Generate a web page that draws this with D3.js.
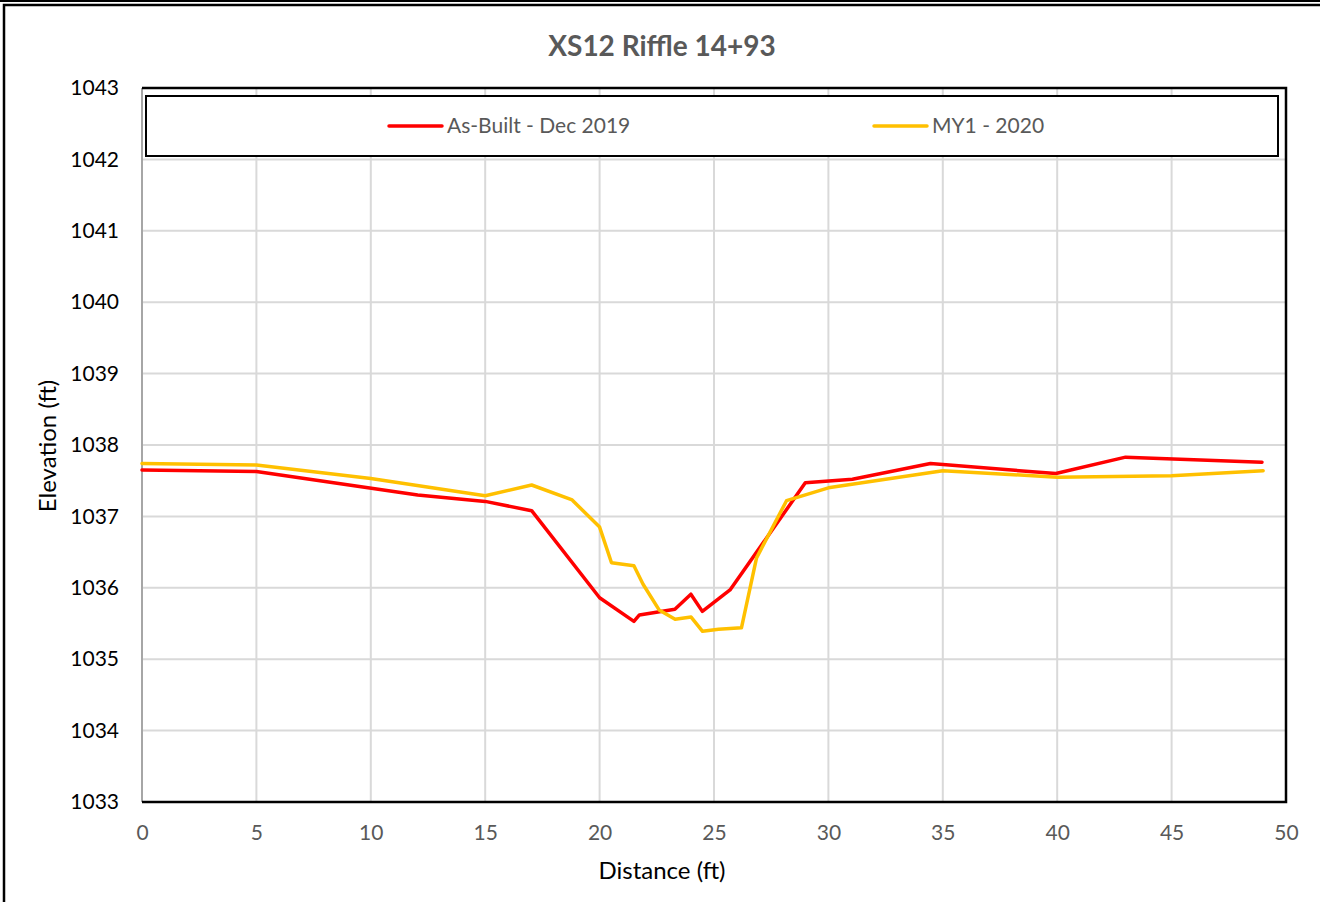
<!DOCTYPE html>
<html>
<head>
<meta charset="utf-8">
<script src="https://cdn.jsdelivr.net/npm/d3@7"></script>
<style>
  body { margin: 0; background: #fff; }
  svg { display: block; font-family: Lato, "Open Sans", sans-serif; }
</style>
</head>
<body>
<svg width="1320" height="902"></svg>
<script>
const width = 1320;
const height = 902;

// As-Built - Dec 2019
const asBuiltX = [0, 5, 12.05, 15, 17.03, 20, 21.5, 21.74, 23.29, 23.99, 24.49, 25.7, 28.99, 31.05, 34.46, 39.94, 42.99, 48.95];
const asBuiltY = [1037.65, 1037.63, 1037.30, 1037.21, 1037.08, 1035.86, 1035.53, 1035.62, 1035.70, 1035.91, 1035.67, 1035.97, 1037.47, 1037.52, 1037.74, 1037.60, 1037.83, 1037.76];

// MY1 - 2020
const my1X = [0, 5, 10, 15, 17.03, 18.8, 20, 20.52, 21.5, 21.9, 22.6, 23.3, 24.0, 24.5, 25.2, 26.2, 26.86, 28.17, 30, 35, 40, 45, 49];
const my1Y = [1037.74, 1037.72, 1037.53, 1037.29, 1037.44, 1037.23, 1036.85, 1036.35, 1036.31, 1036.05, 1035.69, 1035.56, 1035.59, 1035.39, 1035.42, 1035.44, 1036.42, 1037.22, 1037.40, 1037.64, 1037.55, 1037.57, 1037.64];

const xTicks = [0, 5, 10, 15, 20, 25, 30, 35, 40, 45, 50];
const yTicks = [1033, 1034, 1035, 1036, 1037, 1038, 1039, 1040, 1041, 1042, 1043];

const seriesNames = ["As-Built - Dec 2019", "MY1 - 2020"];
const seriesColors = ["#ff0000", "#ffc000"];

const margin = { top: 88, right: 34, bottom: 100, left: 142 };

const x = d3.scaleLinear()
    .domain([0, 50])
    .range([margin.left, width - margin.right]);
const y = d3.scaleLinear()
    .domain([1033, 1043])
    .range([height - margin.bottom, margin.top]);

const svg = d3.select("svg");

// outer chart frame
svg.append("line")
    .attr("x1", 0).attr("x2", width)
    .attr("y1", 1).attr("y2", 1)
    .attr("stroke", "#000").attr("stroke-width", 2);
svg.append("rect")
    .attr("x", 4).attr("y", 5)
    .attr("width", width + 10).attr("height", height + 10)
    .attr("fill", "none")
    .attr("stroke", "#000").attr("stroke-width", 2.5);

// title
svg.append("text")
    .attr("x", 662).attr("y", 56)
    .attr("text-anchor", "middle")
    .attr("font-size", 28)
    .attr("font-weight", "bold")
    .attr("fill", "#595959")
    .text("XS12 Riffle 14+93");

// gridlines
svg.append("g")
    .attr("stroke", "#d9d9d9")
    .attr("stroke-width", 2)
  .selectAll("line.h")
  .data(yTicks)
  .join("line")
    .attr("x1", x(0)).attr("x2", x(50))
    .attr("y1", d => y(d)).attr("y2", d => y(d));

svg.append("g")
    .attr("stroke", "#d9d9d9")
    .attr("stroke-width", 2)
  .selectAll("line.v")
  .data(xTicks.slice(1))
  .join("line")
    .attr("x1", d => x(d)).attr("x2", d => x(d))
    .attr("y1", y(1033)).attr("y2", y(1043));

// axes
const xAxis = svg.append("g")
    .attr("transform", `translate(0,${y(1033)})`)
    .call(d3.axisBottom(x).tickValues(xTicks).tickSize(0).tickPadding(23));
xAxis.select(".domain").remove();
xAxis.selectAll("text")
    .attr("font-family", "Lato, 'Open Sans', sans-serif")
    .attr("font-size", 21)
    .attr("fill", "#595959");

const yAxis = svg.append("g")
    .attr("transform", `translate(${x(0)},0)`)
    .call(d3.axisLeft(y).tickValues(yTicks).tickFormat(d3.format("d")).tickSize(0).tickPadding(23));
yAxis.select(".domain").remove();
yAxis.selectAll("text")
    .attr("font-family", "Lato, 'Open Sans', sans-serif")
    .attr("font-size", 21)
    .attr("fill", "#000");

// plot border
svg.append("line")
    .attr("x1", x(0)).attr("x2", x(0))
    .attr("y1", y(1043)).attr("y2", y(1033))
    .attr("stroke", "#a6a6a6").attr("stroke-width", 2);
svg.append("path")
    .attr("d", `M${x(0)},${y(1043)}H${x(50)}V${y(1033)}H${x(0)}`)
    .attr("fill", "none")
    .attr("stroke", "#000")
    .attr("stroke-width", 2.5);

// axis titles
svg.append("text")
    .attr("x", 662).attr("y", 879)
    .attr("text-anchor", "middle")
    .attr("font-size", 24)
    .attr("fill", "#000")
    .text("Distance (ft)");
svg.append("text")
    .attr("transform", "translate(56,446) rotate(-90)")
    .attr("text-anchor", "middle")
    .attr("font-size", 24)
    .attr("fill", "#000")
    .text("Elevation (ft)");

// series
const series = [
  asBuiltX.map((d, i) => [d, asBuiltY[i]]),
  my1X.map((d, i) => [d, my1Y[i]])
];

const line = d3.line()
    .x(d => x(d[0]))
    .y(d => y(d[1]));

svg.append("g")
  .selectAll("path")
  .data(series)
  .join("path")
    .attr("d", line)
    .attr("fill", "none")
    .attr("stroke", (d, i) => seriesColors[i])
    .attr("stroke-width", 3.5)
    .attr("stroke-linejoin", "round")
    .attr("stroke-linecap", "round");

// legend
svg.append("rect")
    .attr("x", 146).attr("y", 96)
    .attr("width", 1132).attr("height", 60)
    .attr("fill", "#fff")
    .attr("stroke", "#000")
    .attr("stroke-width", 2);

const legendX = [389, 874];
const legend = svg.append("g")
  .selectAll("g")
  .data(seriesNames)
  .join("g")
    .attr("transform", (d, i) => `translate(${legendX[i]},126)`);
legend.append("line")
    .attr("x1", 0).attr("x2", 53)
    .attr("stroke", (d, i) => seriesColors[i])
    .attr("stroke-width", 3.5)
    .attr("stroke-linecap", "round");
legend.append("text")
    .attr("x", 58).attr("y", 7)
    .attr("font-size", 21)
    .attr("fill", "#595959")
    .text(d => d);
</script>
</body>
</html>
